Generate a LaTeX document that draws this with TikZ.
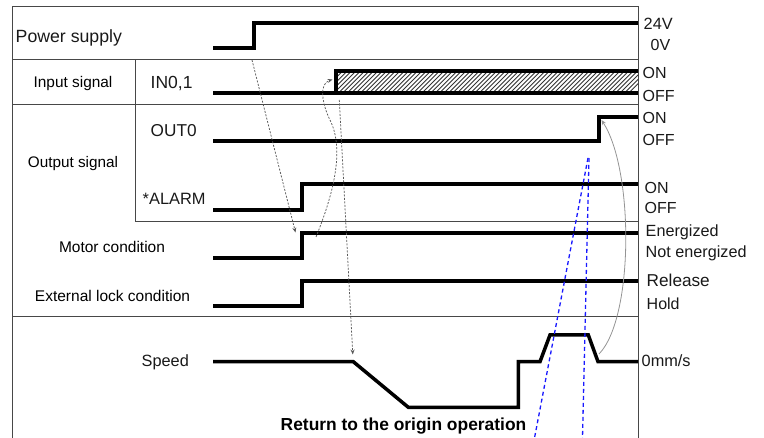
\documentclass[tikz,border=0pt]{standalone}
\usepackage{fontspec}
\setmainfont{Liberation Sans}
\usetikzlibrary{arrows.meta}
\begin{document}
\begin{tikzpicture}[x=1pt,y=-1pt,
  frame/.style={line width=1pt, draw=black!72},
  wave/.style={line width=3.5pt, line join=miter, line cap=butt},
  hatchline/.style={line width=0.9pt, draw=black!80},
  lbl/.style={inner sep=0pt, anchor=base west, text=black!90},
  gdash/.style={draw=black!65, line width=0.75pt, dash pattern=on 2pt off 1.5pt, -{Stealth[length=5pt,width=4pt]}},
  gsolid/.style={draw=black!42, line width=0.8pt, -{Stealth[length=5pt,width=4pt]}},
  bluedash/.style={draw=blue!90, line width=1.3pt, dash pattern=on 4pt off 3pt}
]
\useasboundingbox (0,0) rectangle (764,438);

% frame
\draw[frame] (12,438) -- (12,7) -- (638,7) -- (638,438);
\draw[frame] (12,60) -- (638,60);
\draw[frame] (12,105) -- (638,105);
\draw[frame] (135,60) -- (135,222) -- (638,222);
\draw[frame] (12,317) -- (638,317);

% hatch
\begin{scope}
  \clip (336,71) rectangle (638,93);
  \foreach \i in {0,...,72} \draw[hatchline] ({336+4.4*\i-24},93) -- ++(24,-24);
\end{scope}

% waveforms
\draw[wave] (213,48) -- (254,48) coordinate (pw) -- (254,23) -- (638,23);
\draw[wave] (213,93) -- (638,93);
\draw[wave] (336,93) -- (336,71) -- (638,71);
\draw[wave] (213,141) -- (599,141) -- (599,117) -- (638,117);
\draw[wave] (213,210) -- (302,210) -- (302,184) -- (638,184);
\draw[wave] (213,258) -- (302,258) -- (302,233) -- (638,233);
\draw[wave] (213,306) -- (302,306) -- (302,281) -- (638,281);
\draw[wave] (213,361.7) -- (353.3,361.7) -- (408.3,407.3) -- (518.3,407.3) -- (518.3,361.7)
  -- (540,361.7) -- (550,335) -- (588.3,335) -- (598,361.7) -- (638,361.7);

% connector end points
\coordinate (a1s) at (252,60);
\coordinate (a1e) at (295.5,232.5);
\coordinate (a2s) at (316,237);
\coordinate (a2e) at (332.5,79.5);
\coordinate (a3s) at (339.3,100);
\coordinate (a3e) at (352.8,354.5);
\coordinate (a4s) at (599,354);
\coordinate (a4e) at (601.5,120);
\coordinate (b1s) at (588,158);
\coordinate (b1e) at (534.5,438);
\coordinate (b2s) at (589,158);
\coordinate (b2e) at (582.5,438);

% gray arrows
\draw[gdash] (a1s) -- (a1e);
\draw[gdash] (a2s) .. controls (333,195) and (345,150) .. (330,120)
  .. controls (323,106) and (318,84) .. (a2e);
\draw[gdash] (a3s) -- (a3e);
\draw[gsolid] (a4s) .. controls (634,318) and (634,170) .. (a4e);

% blue dashed lines
\draw[bluedash] (b1s) -- (b1e);
\draw[bluedash] (b2s) -- (b2e);

% left labels
\node[lbl, font=\fontsize{17.7}{18}\selectfont] (ps) at (15.5,42.5) {Power supply};
\node[inner sep=0pt, anchor=base, font=\fontsize{15.4}{16}\selectfont] (is) at (73,87.3) {Input signal};
\node[lbl, font=\fontsize{17.5}{18}\selectfont] (in) at (150.5,89) {IN0,1};
\node[lbl, font=\fontsize{17.2}{18}\selectfont] (o0) at (150.5,136.7) {OUT0};
\node[inner sep=0pt, anchor=base, font=\fontsize{15.3}{16}\selectfont] (os) at (73,167.5) {Output signal};
\node[lbl, font=\fontsize{16.4}{17}\selectfont] (al) at (142.5,205) {*ALARM};
\node[inner sep=0pt, anchor=base, font=\fontsize{15.5}{16}\selectfont] (mc) at (112,253) {Motor condition};
\node[inner sep=0pt, anchor=base, font=\fontsize{15.5}{16}\selectfont] (el) at (112.5,301.3) {External lock condition};
\node[lbl, font=\fontsize{16.3}{17}\selectfont] (sp) at (141.5,367) {Speed};
\node[inner sep=0pt, anchor=base, font=\bfseries\fontsize{17.4}{18}\selectfont] (ret) at (403.5,430.7) {Return to the origin operation};

% right labels
\node[lbl, font=\fontsize{16.3}{17}\selectfont] (v24) at (643.5,30) {24V};
\node[lbl, font=\fontsize{16}{17}\selectfont] (v0) at (650.5,50.7) {0V};
\node[lbl, font=\fontsize{16}{17}\selectfont] (on1) at (642.5,78.7) {ON};
\node[lbl, font=\fontsize{16}{17}\selectfont] (off1) at (642.5,101.3) {OFF};
\node[lbl, font=\fontsize{16}{17}\selectfont] (on2) at (642.5,123.3) {ON};
\node[lbl, font=\fontsize{16}{17}\selectfont] (off2) at (642.5,145.3) {OFF};
\node[lbl, font=\fontsize{16}{17}\selectfont] (on3) at (644.5,193.3) {ON};
\node[lbl, font=\fontsize{16}{17}\selectfont] (off3) at (644.5,213.3) {OFF};
\node[lbl, font=\fontsize{16.2}{17}\selectfont] (en) at (645.5,236.3) {Energized};
\node[lbl, font=\fontsize{16.2}{17}\selectfont] (nen) at (645.5,257.3) {Not energized};
\node[lbl, font=\fontsize{17.2}{18}\selectfont] (rel) at (646.5,286.3) {Release};
\node[lbl, font=\fontsize{16}{17}\selectfont] (hold) at (646.5,309.7) {Hold};
\node[lbl, font=\fontsize{16.3}{17}\selectfont] (zero) at (641.5,367) {0mm/s};
\end{tikzpicture}
\end{document}
